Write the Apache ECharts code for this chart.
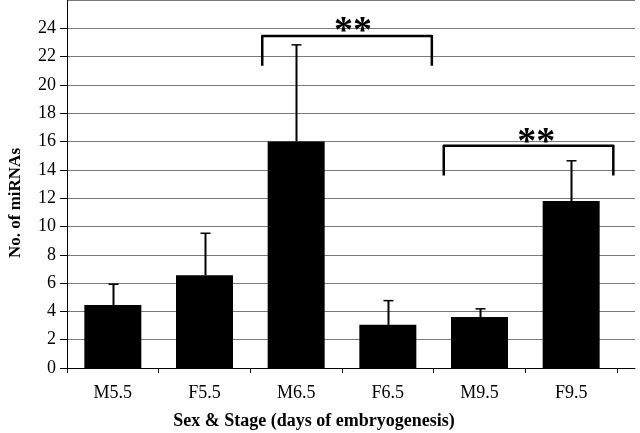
<!DOCTYPE html>
<html>
<head>
<meta charset="utf-8">
<script src="https://cdn.jsdelivr.net/npm/echarts@6/dist/echarts.min.js"></script>
<style>html,body{margin:0;padding:0;background:#fff}#c{width:640px;height:433px}</style>
</head>
<body>
<div id="c"></div>
<script>
var categories = ['M5.5', 'F5.5', 'M6.5', 'F6.5', 'M9.5', 'F9.5'];
var means = [4.45, 6.55, 16.0, 3.05, 3.6, 11.8];
var errorTops = [5.92, 9.52, 22.83, 4.76, 4.18, 14.64];
var yTicks = [0, 2, 4, 6, 8, 10, 12, 14, 16, 18, 20, 22, 24];
// brackets: [left index, right index, top value, bottom value]
var brackets = [[1.63, 3.48, 23.45, 21.35], [3.61, 5.46, 15.7, 13.6]];
// significance labels: [index, value, text]
var sigLabels = [[2.62, 23.7, '**'], [4.62, 15.9, '**']];

var FONT = '"Liberation Serif", "Times New Roman", serif';
var chart = echarts.init(document.getElementById('c'), null, {renderer: 'canvas'});

function catX(api, idx) {
  var base = Math.floor(idx);
  var frac = idx - base;
  var band = api.size([1, 0])[0];
  return api.coord([base, 0])[0] + frac * band;
}

var option = {
  backgroundColor: '#fff',
  animation: false,
  grid: [
    {left: 67, right: 5, top: -3.3, bottom: 65},
    {left: 67, right: 23, top: -3.3, bottom: 65}
  ],
  xAxis: [
    {gridIndex: 0, type: 'value', min: 0, max: 1, axisLine: {show: true, onZero: false, lineStyle: {color: '#000', width: 1}},
     axisTick: {show: false}, axisLabel: {show: false}, splitLine: {show: false}},
    {gridIndex: 1, type: 'category', data: categories, boundaryGap: true,
     axisLine: {show: false}, axisTick: {show: true, length: 5, lineStyle: {color: '#000'}},
     axisLabel: {margin: 16, fontFamily: FONT, fontSize: 18, color: '#000'}, splitLine: {show: false}}
  ],
  yAxis: [
    {gridIndex: 0, type: 'value', min: 0, max: 26, interval: 2,
     axisLine: {show: true, lineStyle: {color: '#000', width: 1}},
     axisTick: {show: true, length: 7, lineStyle: {color: '#000'}},
     axisLabel: {showMaxLabel: false, margin: 11, fontFamily: FONT, fontSize: 18, color: '#000'},
     splitLine: {show: true, lineStyle: {color: '#7a7a7a', width: 1}}},
    {gridIndex: 1, type: 'value', min: 0, max: 26, interval: 2, show: false, splitLine: {show: false}}
  ],
  series: [
    {type: 'bar', xAxisIndex: 1, yAxisIndex: 1, data: means, barWidth: 57, itemStyle: {color: '#000'}, z: 2},
    {type: 'custom', xAxisIndex: 1, yAxisIndex: 1, z: 3,
     data: categories.map(function (c, i) { return [i, means[i], errorTops[i]]; }),
     renderItem: function (params, api) {
       var p0 = api.coord([api.value(0), api.value(1)]);
       var p1 = api.coord([api.value(0), api.value(2)]);
       var x = Math.round(p0[0]) + 0.5;
       return {type: 'group', children: [
         {type: 'line', shape: {x1: x, y1: p0[1], x2: x, y2: p1[1]}, style: {stroke: '#000', lineWidth: 2}},
         {type: 'line', shape: {x1: x - 5, y1: p1[1], x2: x + 5, y2: p1[1]}, style: {stroke: '#000', lineWidth: 1.5}}
       ]};
     }},
    {type: 'custom', xAxisIndex: 1, yAxisIndex: 1, z: 4, data: brackets,
     renderItem: function (params, api) {
       var xl = catX(api, api.value(0));
       var xr = catX(api, api.value(1));
       var yt = api.coord([0, api.value(2)])[1];
       var yb = api.coord([0, api.value(3)])[1];
       return {type: 'polyline', shape: {points: [[xl, yb], [xl, yt], [xr, yt], [xr, yb]]},
               style: {stroke: '#000', lineWidth: 2.5, fill: null, lineJoin: 'round'}};
     }},
    {type: 'custom', xAxisIndex: 1, yAxisIndex: 1, z: 5, data: sigLabels,
     renderItem: function (params, api) {
       var x = catX(api, api.value(0));
       var y = api.coord([0, api.value(1)])[1];
       return {type: 'text', x: x, y: y,
               style: {text: sigLabels[params.dataIndex][2], fontFamily: FONT, fontWeight: 'bold', fontSize: 38,
                       fill: '#000', align: 'center', verticalAlign: 'middle'}};
     }}
  ],
  graphic: [
    {type: 'text', x: 16, y: 203, rotation: Math.PI / 2,
     style: {text: 'No. of miRNAs', fontFamily: FONT, fontWeight: 'bold', fontSize: 17, fill: '#000', align: 'center', verticalAlign: 'middle'}},
    {type: 'text', x: 314, y: 421,
     style: {text: 'Sex & Stage (days of embryogenesis)', fontFamily: FONT, fontWeight: 'bold', fontSize: 18, fill: '#000', align: 'center', verticalAlign: 'middle'}}
  ]
};
chart.setOption(option);
</script>
</body>
</html>
